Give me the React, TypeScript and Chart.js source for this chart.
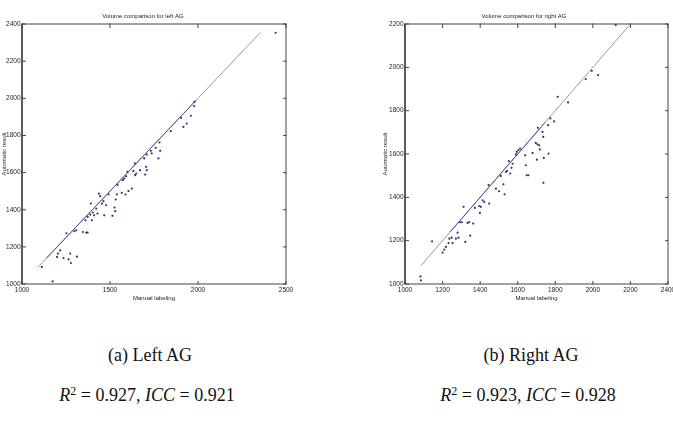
import React, { useEffect, useRef } from "react";
import { Chart, registerables } from "chart.js";
Chart.register(...registerables);

// ---- Left AG data ----
const leftManual = [1113, 1174, 1199, 1204, 1217, 1236, 1253, 1265, 1274, 1278, 1297, 1308, 1312, 1346, 1361, 1365, 1373, 1373, 1388, 1391, 1397, 1403, 1410, 1422, 1429, 1437, 1444, 1454, 1463, 1467, 1478, 1492, 1514, 1526, 1530, 1533, 1539, 1543, 1567, 1573, 1581, 1588, 1592, 1599, 1605, 1624, 1633, 1641, 1643, 1649, 1671, 1694, 1700, 1705, 1709, 1709, 1732, 1737, 1760, 1775, 1781, 1785, 1845, 1904, 1917, 1936, 1959, 1978, 1980, 2441];
const leftAuto = [1092, 1014, 1146, 1164, 1181, 1140, 1273, 1133, 1164, 1113, 1284, 1289, 1147, 1280, 1343, 1277, 1277, 1361, 1374, 1433, 1343, 1385, 1370, 1406, 1379, 1487, 1473, 1433, 1446, 1370, 1424, 1482, 1367, 1412, 1392, 1455, 1483, 1534, 1491, 1559, 1568, 1482, 1580, 1604, 1501, 1514, 1609, 1650, 1586, 1595, 1613, 1676, 1589, 1631, 1697, 1613, 1717, 1703, 1733, 1676, 1762, 1717, 1823, 1895, 1846, 1864, 1906, 1958, 1981, 2353];
const leftIdentity = [1090, 2355];
const leftFit = [1140, 1990];
const leftXTicks = [1000, 1500, 2000, 2500];
const leftYTicks = [1000, 1200, 1400, 1600, 1800, 2000, 2200, 2400];

// ---- Right AG data ----
const rightManual = [1082, 1085, 1144, 1200, 1209, 1218, 1232, 1236, 1248, 1253, 1271, 1280, 1285, 1292, 1303, 1312, 1321, 1333, 1342, 1347, 1363, 1372, 1395, 1399, 1404, 1413, 1422, 1445, 1448, 1484, 1501, 1510, 1524, 1530, 1537, 1543, 1553, 1560, 1567, 1573, 1590, 1595, 1604, 1613, 1640, 1643, 1648, 1657, 1679, 1696, 1702, 1705, 1707, 1714, 1718, 1732, 1736, 1737, 1739, 1764, 1762, 1774, 1794, 1813, 1868, 1962, 1994, 2028, 2122];
const rightAuto = [1035, 1017, 1197, 1145, 1159, 1171, 1189, 1209, 1214, 1189, 1209, 1237, 1214, 1285, 1285, 1356, 1194, 1282, 1286, 1223, 1279, 1351, 1360, 1328, 1356, 1386, 1379, 1456, 1371, 1440, 1428, 1499, 1460, 1414, 1517, 1522, 1567, 1510, 1536, 1555, 1598, 1610, 1618, 1625, 1594, 1548, 1502, 1502, 1605, 1651, 1574, 1645, 1721, 1640, 1621, 1702, 1679, 1467, 1582, 1602, 1733, 1764, 1751, 1864, 1838, 1946, 1984, 1964, 2195];
const rightIdentity = [1085, 2195];
const rightFit = [1240, 1745];
const rightXTicks = [1000, 1200, 1400, 1600, 1800, 2000, 2200, 2400];
const rightYTicks = [1000, 1200, 1400, 1600, 1800, 2000, 2200];

const FONT = "'Liberation Sans', Arial, sans-serif";
const AXIS = "#444444";

// small inward tick-mark glyph used as a point style
function tickGlyph(dir: "up" | "down" | "left" | "right"): HTMLCanvasElement {
  const c = document.createElement("canvas");
  c.width = 7;
  c.height = 7;
  const g = c.getContext("2d")!;
  g.fillStyle = AXIS;
  if (dir === "up") g.fillRect(3, 0, 1, 4);
  if (dir === "down") g.fillRect(3, 3, 1, 4);
  if (dir === "right") g.fillRect(3, 3, 4, 1);
  if (dir === "left") g.fillRect(0, 3, 4, 1);
  return c;
}

type P = {
  title: string;
  manual: number[];
  auto: number[];
  identity: number[];
  fit: number[];
  xTicks: number[];
  yTicks: number[];
  yWidth: number; rightPad: number; yTitlePad: number;
};

function makeConfig(p: P): any {
  const xMin = p.xTicks[0], xMax = p.xTicks[p.xTicks.length - 1];
  const yMin = p.yTicks[0], yMax = p.yTicks[p.yTicks.length - 1];
  const xStep = p.xTicks[1] - p.xTicks[0];
  const yStep = p.yTicks[1] - p.yTicks[0];
  const pts = p.manual.map((m, i) => ({ x: m, y: p.auto[i] }));
  const tickSet = (data: any[], dir: any) => ({
    data,
    pointStyle: tickGlyph(dir),
    pointRadius: 3,
    showLine: false,
    clip: false,
  });
  return {
    type: "scatter",
    data: {
      datasets: [
        {
          data: pts,
          pointRadius: 1.1,
          pointBackgroundColor: "#34346e",
          pointBorderWidth: 0,
          showLine: false,
          clip: false,
        },
        {
          type: "line",
          data: p.fit.map((v) => ({ x: v, y: v })),
          borderColor: "#4a4aa8",
          borderWidth: 1,
          pointRadius: 0,
          fill: false,
        },
        {
          type: "line",
          data: p.identity.map((v) => ({ x: v, y: v })),
          borderColor: "#9a9a9a",
          borderWidth: 1,
          pointRadius: 0,
          fill: false,
        },
        {
          type: "line",
          data: [
            { x: xMin, y: yMin },
            { x: xMax, y: yMin },
            { x: xMax, y: yMax },
            { x: xMin, y: yMax },
            { x: xMin, y: yMin },
          ],
          borderColor: AXIS,
          borderWidth: 1,
          pointRadius: 0,
          fill: false,
          clip: false,
          tension: 0,
        },
        tickSet(p.xTicks.map((v) => ({ x: v, y: yMin })), "up"),
        tickSet(p.xTicks.map((v) => ({ x: v, y: yMax })), "down"),
        tickSet(p.yTicks.map((v) => ({ x: xMin, y: v })), "right"),
        tickSet(p.yTicks.map((v) => ({ x: xMax, y: v })), "left"),
      ],
    },
    options: {
      responsive: false,
      animation: false,
      layout: { padding: { left: 0, right: p.rightPad, top: 0, bottom: 0 } },
      plugins: {
        legend: { display: false },
        tooltip: { enabled: false },
        title: {
          display: true,
          text: p.title,
          color: "#222",
          font: { family: FONT, size: 6, weight: "normal" },
          padding: { top: 12.4, bottom: 4.4 },
        },
      },
      scales: {
        x: {
          type: "linear",
          min: xMin,
          max: xMax,
          grid: { display: false, drawTicks: false },
          border: { display: false },
          ticks: {
            stepSize: xStep,
            color: "#222",
            font: { family: FONT, size: 6.5 },
            padding: 2,
            maxRotation: 0,
            autoSkip: false,
            callback: (v: any) => String(v),
          },
          title: {
            display: true,
            text: "Manual labeling",
            color: "#222",
            font: { family: FONT, size: 6 },
            padding: { top: 0, bottom: 8.4 },
          },
          afterFit: (s: any) => {
            s.height = 26;
            s.paddingLeft = 0;
            s.paddingRight = 0;
          },
        },
        y: {
          type: "linear",
          min: yMin,
          max: yMax,
          grid: { display: false, drawTicks: false },
          border: { display: false },
          ticks: {
            stepSize: yStep,
            color: "#222",
            font: { family: FONT, size: 6.5 },
            padding: 1.5,
            autoSkip: false,
            callback: (v: any) => String(v),
          },
          title: {
            display: true,
            text: "Automatic result",
            color: "#222",
            font: { family: FONT, size: 6 },
            padding: { top: p.yTitlePad, bottom: 0 },
          },
          afterFit: (s: any) => {
            s.width = p.yWidth;
            s.paddingTop = 0;
            s.paddingBottom = 0;
          },
        },
      },
    },
  };
}

function ChartBox(props: { p: P; left: number; width: number; height: number }) {
  const ref = useRef<HTMLCanvasElement | null>(null);
  useEffect(() => {
    if (!ref.current) return;
    const c = new Chart(ref.current, makeConfig(props.p));
    return () => c.destroy();
  }, []);
  return (
    <canvas
      ref={ref}
      width={props.width}
      height={props.height}
      style={{ position: "absolute", left: props.left, top: 0, width: props.width, height: props.height }}
    />
  );
}

const capStyle: React.CSSProperties = {
  position: "absolute",
  width: 300,
  textAlign: "center",
  fontFamily: "'Liberation Serif', 'Times New Roman', serif",
  fontSize: 18,
  lineHeight: "20px",
  color: "#111",
  whiteSpace: "nowrap",
};

function Eq(props: { r2: string; icc: string }) {
  return (
    <span>
      <i>R</i>
      <sup style={{ fontSize: 12, verticalAlign: "6px", lineHeight: 0 }}>2</sup> = {props.r2}, <i>ICC</i> = {props.icc}
    </span>
  );
}

export default function App() {
  const left: P = {
    title: "Volume comparison for left AG",
    manual: leftManual, auto: leftAuto, identity: leftIdentity, fit: leftFit,
    xTicks: leftXTicks, yTicks: leftYTicks,
    yWidth: 22, rightPad: 14, yTitlePad: 0.4,
  };
  const right: P = {
    title: "Volume comparison for right AG",
    manual: rightManual, auto: rightAuto, identity: rightIdentity, fit: rightFit,
    xTicks: rightXTicks, yTicks: rightYTicks,
    yWidth: 25, rightPad: 5, yTitlePad: 1.4,
  };
  return (
    <div style={{ position: "absolute", left: 0, top: 0, width: 673, height: 423, overflow: "hidden", background: "#fff" }}>
      <ChartBox p={left} left={0} width={300} height={310} />
      <ChartBox p={right} left={380} width={293} height={310} />
      <div style={{ ...capStyle, left: 0, top: 345 }}>(a) Left AG</div>
      <div style={{ ...capStyle, left: -3, top: 385 }}><Eq r2="0.927" icc="0.921" /></div>
      <div style={{ ...capStyle, left: 381, top: 345 }}>(b) Right AG</div>
      <div style={{ ...capStyle, left: 378, top: 385 }}><Eq r2="0.923" icc="0.928" /></div>
    </div>
  );
}
